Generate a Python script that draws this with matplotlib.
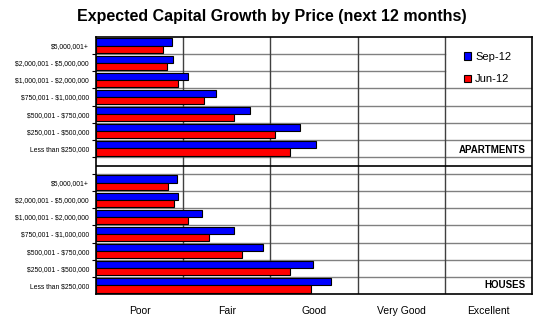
import matplotlib
matplotlib.use("Agg")
import matplotlib.pyplot as plt
from matplotlib.patches import Patch

plt.rcParams['font.family'] = ['Liberation Sans', 'DejaVu Sans']
plt.rcParams['text.parse_math'] = False

price_bands = ["$5,000,001+", "$2,000,001 - $5,000,000", "$1,000,001 - $2,000,000",
               "$750,001 - $1,000,000", "$500,001 - $750,000", "$250,001 - $500,000",
               "Less than $250,000"]
apt_sep12 = [0.87, 0.88, 1.05, 1.38, 1.77, 2.34, 2.52]
apt_jun12 = [0.77, 0.81, 0.94, 1.24, 1.58, 2.05, 2.23]
house_sep12 = [0.93, 0.94, 1.22, 1.58, 1.91, 2.49, 2.69]
house_jun12 = [0.83, 0.89, 1.06, 1.30, 1.68, 2.22, 2.47]
ratings = ["Poor", "Fair", "Good", "Very Good", "Excellent"]
series = ["Sep-12", "Jun-12"]
sections = ["APARTMENTS", "HOUSES"]

W, H = 544, 324
fig = plt.figure(figsize=(W / 100, H / 100), dpi=100)
ax = fig.add_axes([96 / W, 1 - 294 / H, (532 - 96) / W, (294 - 37) / H])

n = len(price_bands)
apt_pos = list(range(n))
house_pos = [n + 1 + i for i in range(n)]
bh = 0.42

blue, red = "#0000FF", "#FF0000"
ax.barh([p - bh / 2 for p in apt_pos], apt_sep12, height=bh, color=blue, edgecolor="black", lw=0.8, zorder=3)
ax.barh([p + bh / 2 for p in apt_pos], apt_jun12, height=bh, color=red, edgecolor="black", lw=0.8, zorder=3)
ax.barh([p - bh / 2 for p in house_pos], house_sep12, height=bh, color=blue, edgecolor="black", lw=0.8, zorder=3)
ax.barh([p + bh / 2 for p in house_pos], house_jun12, height=bh, color=red, edgecolor="black", lw=0.8, zorder=3)

total = 2 * n + 1
ax.set_ylim(total - 0.5, -0.5)
ax.set_xlim(0, len(ratings))

# horizontal gridlines at row boundaries
for k in range(1, total):
    y = k - 0.5
    xmax = 4 if k in (1, 2) else 5
    ax.plot([0, xmax], [y, y], color="#808080", lw=1.0, zorder=1)
# vertical gridlines
for xv in range(1, len(ratings)):
    ax.axvline(xv, color="#404040", lw=1.0, zorder=1)
# separator line
ax.plot([0, 5], [n, n], color="black", lw=1.2, zorder=2)

# ticks
ax.set_yticks([k - 0.5 for k in range(1, total)])
ax.set_yticklabels([])
ax.set_yticks(apt_pos + house_pos, minor=True)
ax.set_yticklabels(price_bands + price_bands, minor=True, fontsize=4.9)
ax.tick_params(axis="y", which="major", length=3, width=0.8, direction="out")
ax.tick_params(axis="y", which="minor", length=0, pad=5)

ax.set_xticks([i + 0.5 for i in range(len(ratings))])
ax.set_xticklabels(ratings, fontsize=7.5)
ax.tick_params(axis="x", length=0, pad=9)

for s in ax.spines.values():
    s.set_linewidth(1.2)
    s.set_color("black")

ax.text(4.93, n - 0.9, sections[0], ha="right", va="center", fontsize=7, fontweight="bold")
ax.text(4.93, total - 1.0, sections[1], ha="right", va="center", fontsize=7, fontweight="bold")

handles = [Patch(facecolor=blue, edgecolor="black", lw=0.8), Patch(facecolor=red, edgecolor="black", lw=0.8)]
ax.legend(handles, series, loc="upper left", bbox_to_anchor=(0.82, 0.98), frameon=False,
          fontsize=8, handlelength=0.7, handleheight=0.7, handletextpad=0.35, labelspacing=1.1)

fig.text(0.5, 1 - 16 / H, "Expected Capital Growth by Price (next 12 months)", ha="center", va="center",
         fontsize=11.5, fontweight="bold")

fig.savefig("out.png", dpi=100)
